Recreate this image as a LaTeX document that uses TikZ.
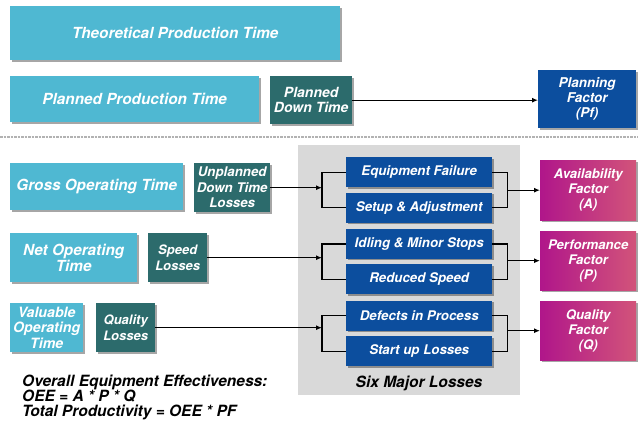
\documentclass[tikz,border=0pt]{standalone}
\usepackage{fontspec}
\setmainfont{TeX Gyre Heros}
\usetikzlibrary{positioning}
\usetikzlibrary{shadows}
\usetikzlibrary{arrows.meta}
\definecolor{timecyan}{HTML}{4FB8D2}
\definecolor{lossteal}{HTML}{2C6B6C}
\definecolor{lossblue}{HTML}{0C4E9E}
\definecolor{factmag}{HTML}{B0168A}
\definecolor{factpink}{HTML}{D2547A}
\definecolor{panelgray}{HTML}{D9D9D9}

\tikzset{
  box/.style={anchor=north west, inner sep=1pt, align=center, text=white,
    drop shadow={shadow xshift=1.5pt, shadow yshift=-1.5pt, fill=black, opacity=.35}},
  timebox/.style={box, fill=timecyan, font=\bfseries\itshape\fontsize{15.3}{16}\selectfont},
  lossbox/.style={box, fill=lossteal, font=\bfseries\itshape\fontsize{13}{15.5}\selectfont},
  majorbox/.style={box, fill=lossblue, minimum width=146pt, minimum height=30pt,
    font=\bfseries\itshape\fontsize{13.3}{14}\selectfont},
  factbox/.style={box, left color=factmag, right color=factpink, minimum width=96pt, minimum height=59pt,
    font=\bfseries\itshape\fontsize{13.2}{15}\selectfont},
  link/.style={line width=1.2pt, color=black},
  arrow/.style={link, -{Latex[length=6pt,width=5pt]}}
}

\begin{document}
\begin{tikzpicture}[x=1pt,y=-1pt]
\useasboundingbox[fill=white] (0,0) rectangle (638,430);

\node(tpt)[timebox, minimum width=330pt, minimum height=54pt] at (10,6) {Theoretical Production Time};
\node(ppt)[timebox, minimum width=249pt, minimum height=46pt] at (10,76) {Planned Production Time};
\node(pdt)[lossbox, minimum width=82pt, minimum height=48pt,
  font=\bfseries\itshape\fontsize{14}{15}\selectfont] at (270,76) {Planned\\Down Time};
\node(pf)[box, fill=lossblue, minimum width=98pt, minimum height=58pt,
  font=\bfseries\itshape\fontsize{13.5}{15}\selectfont] at (538,70) {Planning\\Factor\\(Pf)};

\draw[line width=2.5pt, densely dotted, color=black!30] (0,137)--(638,137);

\fill[panelgray] (298,145) rectangle (520,395);
\node(six)[font=\bfseries\itshape\fontsize{15.5}{16}\selectfont] at (419,383) {Six Major Losses};

\node(ef)[majorbox] at (346,157) {Equipment Failure};
\node(sa)[majorbox, below=5pt of ef.south west, anchor=north west] {Setup \& Adjustment};
\node(im)[majorbox, below=6pt of sa.south west, anchor=north west] {Idling \& Minor Stops};
\node(rs)[majorbox, below=5pt of im.south west, anchor=north west] {Reduced Speed};
\node(dp)[majorbox, below=6pt of rs.south west, anchor=north west] {Defects in Process};
\node(su)[majorbox, below=5pt of dp.south west, anchor=north west] {Start up Losses};

\node(av)[factbox, minimum height=60pt] at (540,160) {Availability\\Factor\\(A)};
\node(pe)[factbox] at (540,231) {Performance\\Factor\\(P)};
\node(qf)[factbox] at (540,301) {Quality\\Factor\\(Q)};

\node(got)[timebox, minimum width=173pt, minimum height=47pt] at (10,163) {Gross Operating Time};
\node(udt)[lossbox, minimum width=76pt, minimum height=49pt,
  font=\bfseries\itshape\fontsize{13.3}{15.5}\selectfont] at (194,163) {Unplanned\\Down Time\\Losses};
\node(net)[timebox, minimum width=127pt, minimum height=49pt] at (10,233) {Net Operating\\Time};
\node(spl)[lossbox, minimum width=59pt, minimum height=49pt] at (148,233) {Speed\\Losses};
\node(vot)[timebox, minimum width=73pt, minimum height=49pt,
  font=\bfseries\itshape\fontsize{14.2}{15.5}\selectfont] at (10,303) {Valuable\\Operating\\Time};
\node(qll)[lossbox, minimum width=59pt, minimum height=49pt] at (96,303) {Quality\\Losses};

\node(oee)[anchor=north west, align=left, inner sep=0pt,
  font=\bfseries\itshape\fontsize{15.5}{15}\selectfont] at (22,375)
  {Overall Equipment Effectiveness:\\OEE = A * P * Q\\Total Productivity = OEE * PF};

\draw[arrow] (pdt.east)--(pdt.east -| pf.west);

\coordinate(l1) at ([xshift=-24pt]ef.west);
\coordinate(l2) at ([xshift=-24pt]im.west);
\coordinate(l3) at ([xshift=-24pt]dp.west);
\coordinate(r1) at ([xshift=15pt]ef.east);
\coordinate(r2) at ([xshift=15pt]im.east);
\coordinate(r3) at ([xshift=15pt]dp.east);

\draw[link] (ef.west)--(l1)|-(sa.west);
\draw[link] (im.west)--(l2)|-(rs.west);
\draw[link] (dp.west)--(l3)|-(su.west);
\draw[link] (ef.east)--(r1)|-(sa.east);
\draw[link] (im.east)--(r2)|-(rs.east);
\draw[link] (dp.east)--(r3)|-(su.east);

\draw[arrow] (udt.east)--(udt.east -| l1);
\draw[arrow] (spl.east)--(spl.east -| l2);
\draw[arrow] (qll.east)--(qll.east -| l3);
\draw[arrow] (r1 |- av.west)--(av.west);
\draw[arrow] (r2 |- pe.west)--(pe.west);
\draw[arrow] (r3 |- qf.west)--(qf.west);
\end{tikzpicture}
\end{document}
